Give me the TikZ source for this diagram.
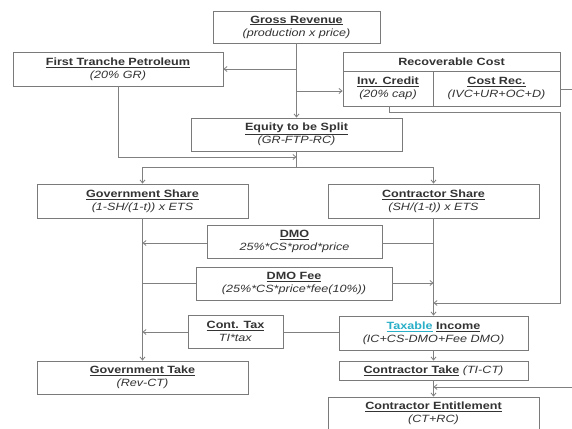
\documentclass[tikz,border=0pt]{standalone}
\usepackage{fontspec}
\setmainfont{Liberation Sans}[FakeStretch=1.2]
\usetikzlibrary{arrows.meta}
\definecolor{boxline}{HTML}{7A7A7A}
\definecolor{conline}{HTML}{808080}
\definecolor{txt}{HTML}{333333}
\definecolor{tcyan}{HTML}{2AAFC8}
\tikzset{
  box/.style={draw=boxline, line width=0.9pt, fill=white, rectangle, inner sep=0pt,
    align=center, text=txt, font=\fontsize{10.5}{13}\selectfont},
  con/.style={draw=conline, line width=0.8pt},
  arr/.style={con, -{Straight Barb[length=3pt,width=5pt]}}
}
\newcommand{\ttl}[1]{\textbf{\underline{#1}}}
\begin{document}
\begin{tikzpicture}[x=1pt,y=-1pt]
\useasboundingbox (0,0) rectangle (572,428);
\clip (0,0) rectangle (572,428);
\fill[white] (0,0) rectangle (572,428);

% nodes
\node[box, minimum width=167pt, minimum height=32pt] (gr) at (296.5,27) {\ttl{Gross Revenue}\\\textit{(production x price)}};
\node[box, minimum width=210pt, minimum height=34pt] (ftp) at (118,69) {\ttl{First Tranche Petroleum}\\\textit{(20\% GR)}};
\node[box, minimum width=217pt, minimum height=19pt] (rc) at (451.5,61.5) {\textbf{Recoverable Cost}};
\node[box, minimum width=90pt, minimum height=35pt] (inv) at (388,88.5) {\ttl{Inv. Credit}\\\textit{(20\% cap)}};
\node[box, minimum width=127pt, minimum height=35pt] (crec) at (496.5,88.5) {\ttl{Cost Rec.}\\\textit{(IVC+UR+OC+D)}};
\node[box, minimum width=211pt, minimum height=33pt] (ets) at (296.5,134.5) {\ttl{Equity to be Split}\\\textit{(GR-FTP-RC)}};
\node[box, minimum width=211pt, minimum height=34pt] (gs) at (142.5,201) {\ttl{Government Share}\\\textit{(1-SH/(1-t)) x ETS}};
\node[box, minimum width=211pt, minimum height=34pt] (cs) at (433.5,201) {\ttl{Contractor Share}\\\textit{(SH/(1-t)) x ETS}};
\node[box, minimum width=175pt, minimum height=33pt] (dmo) at (294.5,241.5) {\ttl{DMO}\\\textit{25\%*CS*prod*price}};
\node[box, minimum width=196pt, minimum height=33pt] (fee) at (294,283.5) {\ttl{DMO Fee}\\\textit{(25\%*CS*price*fee(10\%))}};
\node[box, minimum width=95pt, minimum height=33pt] (ctax) at (235.5,331.5) {\ttl{Cont. Tax}\\\textit{TI*tax}};
\node[box, minimum width=189pt, minimum height=34pt] (ti) at (433.5,333) {\textbf{{\color{tcyan}\underline{Taxable}} \underline{Income}}\\\textit{(IC+CS-DMO+Fee DMO)}};
\node[box, minimum width=211pt, minimum height=33pt] (gt) at (142.5,377.5) {\ttl{Government Take}\\\textit{(Rev-CT)}};
\node[box, minimum width=189pt, minimum height=19pt] (ct) at (433.5,370.5) {\ttl{Contractor Take} \textit{(TI-CT)}};
\node[box, minimum width=211pt, minimum height=33pt] (ce) at (433.5,413.5) {\ttl{Contractor Entitlement}\\\textit{(CT+RC)}};

% junction coordinates
\coordinate (j1) at (296.5,69);
\coordinate (j2) at (296.5,91);
\coordinate (m1) at (296.5,157);
\coordinate (sp) at (296.5,167);
\coordinate (gl) at (142.5,167);
\coordinate (cl) at (433.5,167);
\coordinate (d1) at (142.5,243);
\coordinate (d2) at (433.5,243);
\coordinate (f1) at (142.5,283);
\coordinate (f2) at (433.5,283);
\coordinate (k1) at (389,112);
\coordinate (k2) at (560,112);
\coordinate (k3) at (560,303);
\coordinate (k4) at (433.5,303);
\coordinate (t1) at (142.5,332);
\coordinate (r1) at (572,89);
\coordinate (r2) at (572,387);
\coordinate (r3) at (433.5,387);

% connectors
\draw[arr] (gr.south) -- (ets.north);
\draw[arr] (j1) -- (ftp.east |- j1);
\draw[arr] (j2) -- (inv.west |- j2);
\draw[arr] (ftp.south) |- (m1);
\draw[con] (ets.south) -- (sp);
\draw[con] (gl) -- (cl);
\draw[arr] (gl) -- (gs.north);
\draw[arr] (cl) -- (cs.north);
\draw[arr] (gs.south) -- (gt.north);
\draw[arr] (cs.south) -- (ti.north);
\draw[con] (d2) -- (dmo.east |- d2);
\draw[arr] (dmo.west |- d1) -- (d1);
\draw[con] (f1) -- (fee.west |- f1);
\draw[arr] (fee.east |- f2) -- (f2);
\draw[arr] (inv.south -| k1) -- (k1) -- (k2) -- (k3) -- (k4);
\draw[con] (crec.east |- r1) -- (r1);
\draw[con] (ti.west |- t1) -- (ctax.east |- t1);
\draw[arr] (ctax.west |- t1) -- (t1);
\draw[arr] (ti.south) -- (ct.north);
\draw[arr] (ct.south) -- (ce.north);
\draw[arr] (r2) -- (r3);
\end{tikzpicture}
\end{document}
